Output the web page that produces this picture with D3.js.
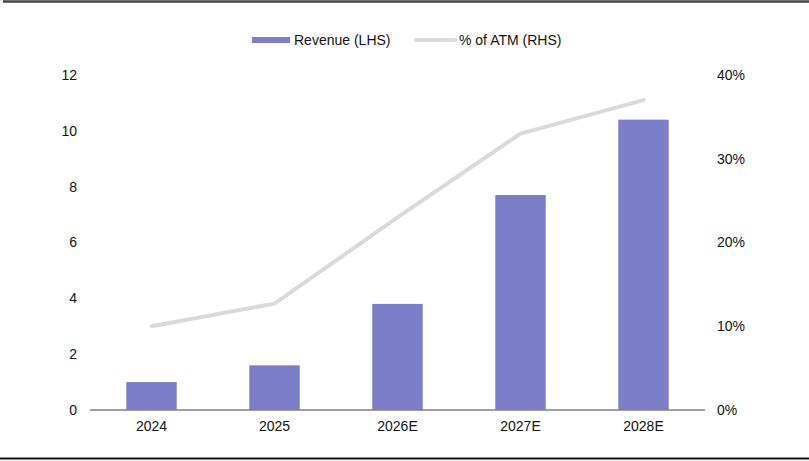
<!DOCTYPE html>
<html>
<head>
<meta charset="utf-8">
<script src="https://cdn.jsdelivr.net/npm/d3@7"></script>
<style>
  body { margin: 0; background: #fff; }
  text { font-family: "Liberation Sans", Arial, sans-serif; fill: #111; }
</style>
</head>
<body>
<svg id="chart" width="809" height="461"></svg>
<script>
// chart data
const categories = ["2024", "2025", "2026E", "2027E", "2028E"];
const revenue = [1.0, 1.6, 3.8, 7.7, 10.4];
const atmShare = [0.10, 0.127, 0.23, 0.33, 0.37];
const leftTicks = [0, 2, 4, 6, 8, 10, 12];
const rightTicks = [0, 0.1, 0.2, 0.3, 0.4];

const svg = d3.select("#chart");
const width = 809, height = 461;
const margin = { top: 75, right: 104, bottom: 51, left: 90 };
const fontSize = 14;

const x = d3.scaleBand()
  .domain(categories)
  .range([margin.left, width - margin.right])
  .paddingInner(0.59)
  .paddingOuter(0.295);

const yL = d3.scaleLinear().domain([0, 12]).range([height - margin.bottom, margin.top]);
const yR = d3.scaleLinear().domain([0, 0.4]).range([height - margin.bottom, margin.top]);

// frame lines top / bottom
svg.append("line")
  .attr("x1", 3).attr("x2", width).attr("y1", 1.5).attr("y2", 1.5)
  .attr("stroke", "#444").attr("stroke-width", 2.5);
svg.append("line")
  .attr("x1", 0).attr("x2", width).attr("y1", 458.5).attr("y2", 458.5)
  .attr("stroke", "#111").attr("stroke-width", 2);

// bars
svg.append("g").selectAll("rect")
  .data(revenue)
  .join("rect")
  .attr("x", (d, i) => x(categories[i]))
  .attr("width", x.bandwidth())
  .attr("y", d => yL(d))
  .attr("height", d => yL(0) - yL(d))
  .attr("fill", "#7b7fc7");

// line
const line = d3.line()
  .x((d, i) => x(categories[i]) + x.bandwidth() / 2)
  .y(d => yR(d));

svg.append("path")
  .datum(atmShare)
  .attr("d", line)
  .attr("fill", "none")
  .attr("stroke", "#d9d9d9")
  .attr("stroke-width", 4)
  .attr("stroke-linecap", "round")
  .attr("stroke-linejoin", "round");

// x axis
const xAxis = svg.append("g")
  .attr("transform", `translate(0,${yL(0)})`)
  .call(d3.axisBottom(x).tickSize(0).tickPadding(11));
xAxis.select(".domain")
  .attr("stroke", "#808080").attr("stroke-width", 1.3)
  .attr("d", `M${margin.left},0H${width - margin.right}`);
xAxis.selectAll("text").attr("font-size", fontSize).attr("fill", "#111");

// left axis
const leftAxis = svg.append("g")
  .attr("transform", `translate(${margin.left - 13},0)`)
  .call(d3.axisLeft(yL).tickValues(leftTicks).tickSize(0).tickPadding(0));
leftAxis.select(".domain").remove();
leftAxis.selectAll("text").attr("font-size", fontSize).attr("fill", "#111");

// right axis
const rightAxis = svg.append("g")
  .attr("transform", `translate(${width - margin.right + 12},0)`)
  .call(d3.axisRight(yR).tickValues(rightTicks).tickFormat(d3.format(".0%")).tickSize(0).tickPadding(0));
rightAxis.select(".domain").remove();
rightAxis.selectAll("text").attr("font-size", fontSize).attr("fill", "#111");

// legend
const legend = svg.append("g");
legend.append("rect")
  .attr("x", 252).attr("y", 37).attr("width", 38).attr("height", 6)
  .attr("fill", "#7b7fc7");
legend.append("text")
  .attr("x", 294).attr("y", 45).attr("font-size", fontSize)
  .text("Revenue (LHS)");
legend.append("line")
  .attr("x1", 416).attr("x2", 455).attr("y1", 40).attr("y2", 40)
  .attr("stroke", "#d9d9d9").attr("stroke-width", 4).attr("stroke-linecap", "round");
legend.append("text")
  .attr("x", 459).attr("y", 45).attr("font-size", fontSize)
  .text("% of ATM (RHS)");
</script>
</body>
</html>
